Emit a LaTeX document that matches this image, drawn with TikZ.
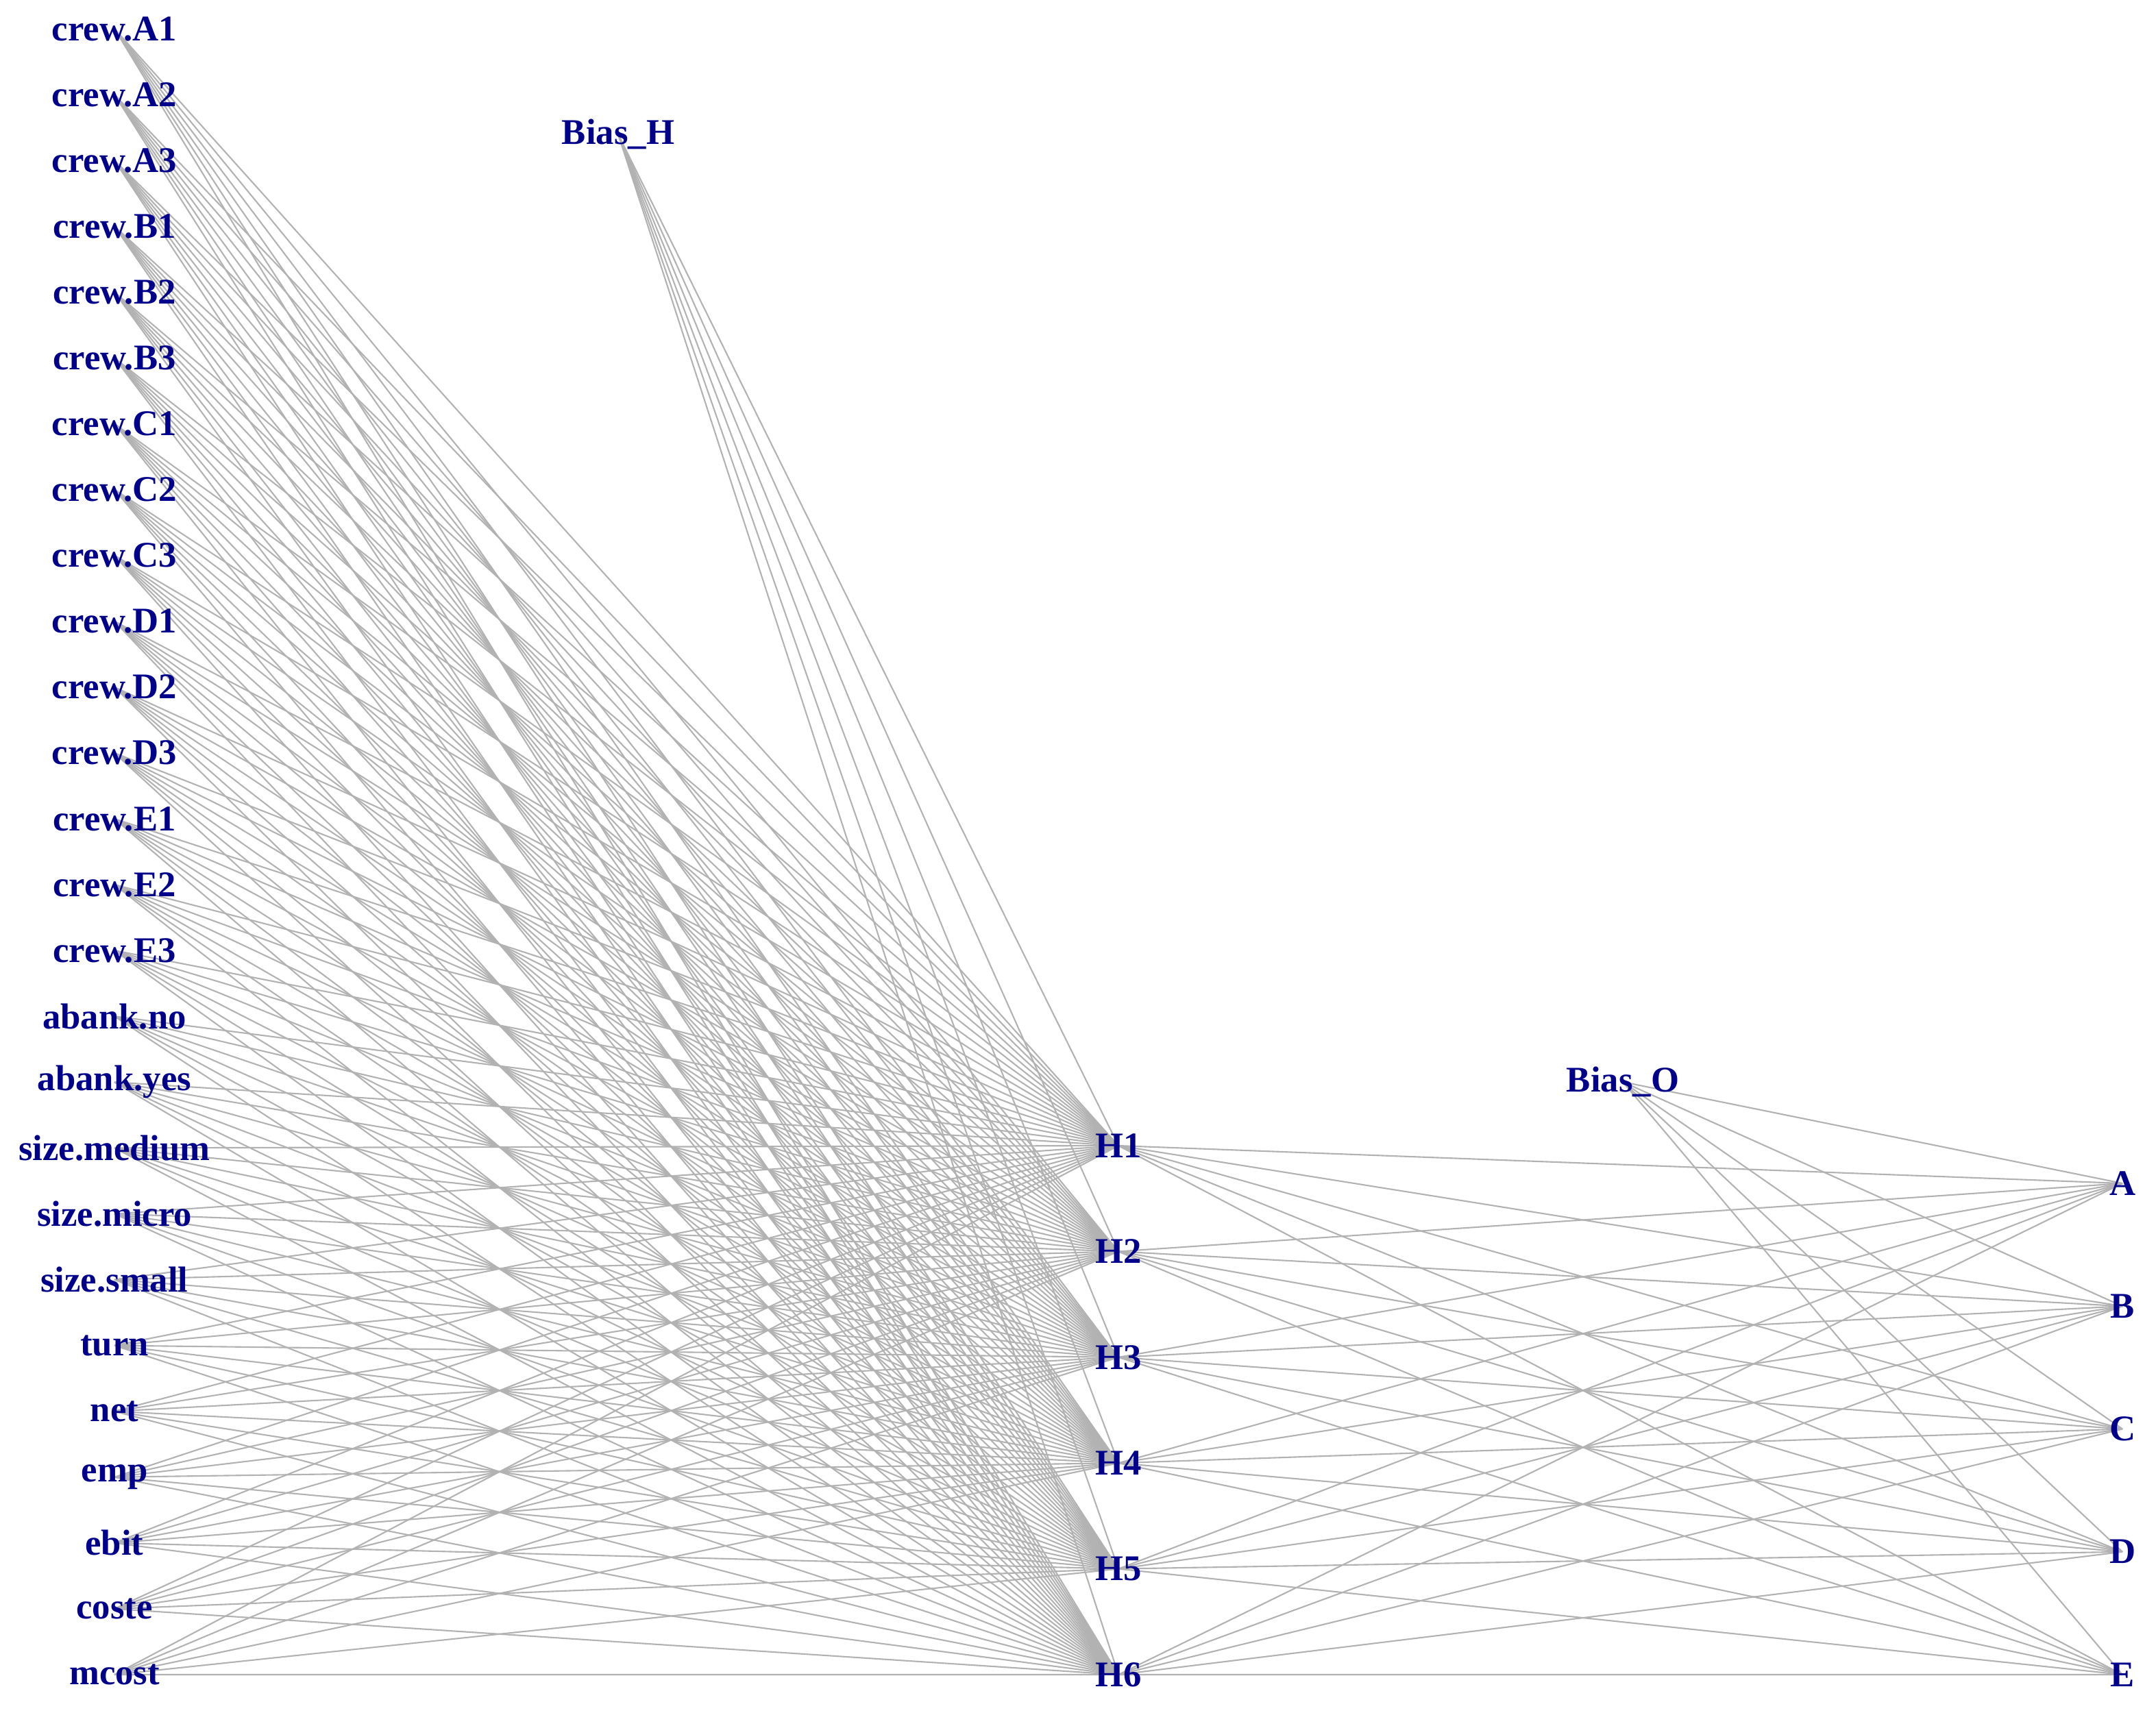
\documentclass[tikz,border=0pt]{standalone}
\usepackage{fontspec}
\setmainfont{Liberation Serif}
\definecolor{lbl}{RGB}{0,0,139}
\definecolor{wirec}{RGB}{178,178,178}
\pgfdeclarelayer{bg}
\pgfsetlayers{bg,main}
\begin{document}
\begin{tikzpicture}[x=1cm,y=1cm,
  lab/.style={font=\fontsize{15}{18}\selectfont\bfseries, text=lbl, inner sep=0pt},
  wire/.style={draw=wirec, line width=0.6pt}]
\useasboundingbox (0,0) rectangle (31.46,-24.99);
\foreach \n [count=\i] in {crew.A1,crew.A2,crew.A3,crew.B1,crew.B2,crew.B3,crew.C1,crew.C2,crew.C3,crew.D1,crew.D2,crew.D3,crew.E1,crew.E2,crew.E3,abank.no,abank.yes,size.medium,size.micro,size.small,turn,net,emp,ebit,coste,mcost}{
  \node[lab] (in\i) at (1.67,{-(0.42+(\i-1)*0.9608)}) {\n};
}
\foreach \i in {1,...,6}{
  \node[lab] (h\i) at (16.32,{-(16.72+(\i-1)*1.544)}) {H\i};
}
\foreach \n [count=\i] in {A,B,C,D,E}{
  \node[lab] (o\i) at (30.97,{-(17.27+(\i-1)*1.7925)}) {\n};
}
\node[lab] (bh) at (9.02,-1.96) {Bias\_H};
\node[lab] (bo) at (23.68,-15.79) {Bias\_O};
\begin{pgfonlayer}{bg}
\foreach \i in {1,...,26}{
  \foreach \j in {1,...,6}{
    \draw[wire] (in\i.center) -- (h\j.center);
  }
}
\foreach \j in {1,...,6}{
  \draw[wire] (bh.center) -- (h\j.center);
  \foreach \k in {1,...,5}{
    \draw[wire] (h\j.center) -- (o\k.center);
  }
}
\foreach \k in {1,...,5}{
  \draw[wire] (bo.center) -- (o\k.center);
}
\end{pgfonlayer}
\end{tikzpicture}
\end{document}
